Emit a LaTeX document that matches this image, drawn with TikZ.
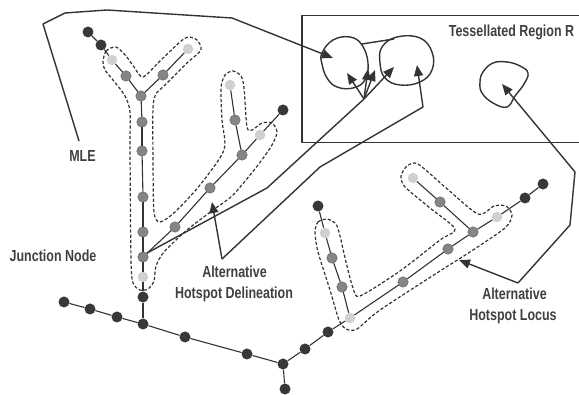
\documentclass[tikz,border=0pt]{standalone}
\usepackage{fontspec}
\newfontfamily\lblfont{Liberation Sans}[FakeStretch=0.78]
\usetikzlibrary{arrows.meta}
\definecolor{ink}{HTML}{333333}
\definecolor{txt}{HTML}{404040}
\definecolor{ndark}{HTML}{383838}
\definecolor{nmid}{HTML}{858585}
\definecolor{nlight}{HTML}{d0d0d0}
\tikzset{
  edge/.style={draw=ink, line width=1.1pt},
  hot/.style={draw=ink, line width=1.2pt, dash pattern=on 3.2pt off 2pt},
  lead/.style={draw=ink, line width=1.4pt, line join=round},
  ptr/.style={lead, -{Triangle[length=11pt,width=9pt]}},
  dk/.style={circle, fill=ndark, minimum size=11pt, inner sep=0pt},
  md/.style={circle, fill=nmid, draw=ink!80, line width=0.4pt, minimum size=10.5pt, inner sep=0pt},
  lt/.style={circle, fill=nlight, minimum size=10.5pt, inner sep=0pt},
  lbl/.style={font=\lblfont\bfseries\fontsize{16}{18}\selectfont, text=txt, inner sep=0pt, anchor=base},
  blob/.style={draw=ink, line width=1.4pt}
}
\begin{document}
\begin{tikzpicture}[x=1pt,y=-1pt]
\useasboundingbox (0,0) rectangle (579,395);

% tessellated region box (cut at the right edge)
\draw[lead] (579,15.5) -- (302,15.5) -- (302,142.5) -- (579,142.5);
\node[lbl] (treg) at (511.5,36.5) {Tessellated Region R};

% regions inside the box
\draw[blob] plot[smooth cycle, tension=0.7] coordinates {(322,53) (333,40) (350,37) (362,45) (368,63) (365,80) (353,88) (337,87) (327,78) (322,64)};
\draw[blob] plot[smooth cycle, tension=0.7] coordinates {(382,47) (397,37) (420,38) (432,52) (432,70) (420,82) (400,85) (385,78) (380,63)};
\coordinate (bl1) at (362,44);
\coordinate (bl2) at (394,39);
\draw[blob] (bl1) -- (bl2);
\draw[blob] plot[smooth cycle, tension=0.7] coordinates {(483,72) (493,63) (507,62) (520,66) (528,73) (524,84) (515,96) (507,107) (493,103) (482,93) (480,82)};

% hotspot outlines
\draw[hot] plot[smooth cycle, tension=0.45] coordinates {
 (103,62) (106,51) (116,47) (126,56) (134,67) (143,77) (160,61) (180,42) (188,37) (197,40) (201,50) (187,63) (165,85) (156,94) (153,108) (153,160) (154,212) (160,222)
 (175,212) (200,185) (224,150) (222,120) (221,88) (225,75) (233,71) (241,76) (244,88) (247,127) (252,130)
 (262,123) (272,123) (277,132) (272,145) (258,165) (233,195) (213,210) (187,230) (164,252) (156,266) (154,281) (148,289) (140,290) (133,283) (131,260) (130,150) (130,112) (125,96) (113,80) (105,70)};
\draw[hot] plot[smooth cycle, tension=0.45] coordinates {
 (315,232) (318,222) (327,219) (336,224) (340,236) (346,262) (353,288) (360,296) (400,271) (440,240) (455,229)
 (430,208) (405,187) (401,176) (407,166) (418,164) (445,187) (478,214) (494,206) (506,206) (512,215) (505,228)
 (470,252) (440,271) (380,310) (357,329) (346,329) (339,320) (330,290) (318,252)};

% network nodes
\node[dk] (t1) at (88,32) {};
\node[dk] (t2) at (101,45) {};
\node[lt] (t3) at (112,60) {};
\node[md] (t4) at (126,76) {};
\node[md] (y0) at (141,96) {};
\node[md] (r1) at (163,75) {};
\node[lt] (r2) at (188,49) {};
\node[md] (v1) at (142,122) {};
\node[md] (v2) at (142,151) {};
\node[md] (v3) at (143,197) {};
\node[md] (v4) at (143,232) {};
\node[md] (jn) at (143,257) {};
\node[lt] (v5) at (143,277) {};
\node[dk] (v6) at (143,297) {};
\node[dk] (b4) at (143,324) {};
\node[dk] (b1) at (64,302) {};
\node[dk] (b2) at (90,309) {};
\node[dk] (b3) at (117,317) {};
\node[dk] (b5) at (185,337) {};
\node[dk] (b6) at (247,354) {};
\node[dk] (b7) at (283,364) {};
\node[dk] (b8) at (285,389) {};
\node[md] (d1) at (175,227) {};
\node[md] (d2) at (210,188) {};
\node[md] (d3) at (242,155) {};
\node[lt] (d4) at (260,135) {};
\node[dk] (d5) at (283,110) {};
\node[md] (u1) at (235,120) {};
\node[lt] (u2) at (230,85) {};
\node[dk] (s1) at (305,349) {};
\node[dk] (s2) at (328,332) {};
\node[lt] (s3) at (350,318) {};
\node[md] (p1) at (342,287) {};
\node[md] (p2) at (332,258) {};
\node[lt] (p3) at (325,233) {};
\node[dk] (p4) at (318,206) {};
\node[md] (q1) at (403,282) {};
\node[md] (q2) at (448,249) {};
\node[md] (q3) at (473,232) {};
\node[lt] (q4) at (497,217) {};
\node[dk] (q5) at (525,198) {};
\node[dk] (q6) at (543,184) {};
\node[md] (w1) at (440,202) {};
\node[lt] (w2) at (413,178) {};

% network edges
\draw[edge] (t1) -- (t2); \draw[edge] (t2) -- (t3); \draw[edge] (t3) -- (t4); \draw[edge] (t4) -- (y0);
\draw[edge] (y0) -- (r1); \draw[edge] (r1) -- (r2);
\draw[edge] (y0) -- (v1); \draw[edge] (v1) -- (v2); \draw[edge] (v2) -- (v3); \draw[edge] (v3) -- (v4);
\draw[edge] (v4) -- (jn); \draw[edge] (jn) -- (v5); \draw[edge] (v5) -- (v6); \draw[edge] (v6) -- (b4);
\draw[edge] (b1) -- (b2); \draw[edge] (b2) -- (b3); \draw[edge] (b3) -- (b4); \draw[edge] (b4) -- (b5);
\draw[edge] (b5) -- (b6); \draw[edge] (b6) -- (b7); \draw[edge] (b7) -- (b8);
\draw[edge] (jn) -- (d1); \draw[edge] (d1) -- (d2); \draw[edge] (d2) -- (d3); \draw[edge] (d3) -- (d4); \draw[edge] (d4) -- (d5);
\draw[edge] (d3) -- (u1); \draw[edge] (u1) -- (u2);
\draw[edge] (b7) -- (s1); \draw[edge] (s1) -- (s2); \draw[edge] (s2) -- (s3);
\draw[edge] (s3) -- (p1); \draw[edge] (p1) -- (p2); \draw[edge] (p2) -- (p3); \draw[edge] (p3) -- (p4);
\draw[edge] (s3) -- (q1); \draw[edge] (q1) -- (q2); \draw[edge] (q2) -- (q3); \draw[edge] (q3) -- (q4);
\draw[edge] (q4) -- (q5); \draw[edge] (q5) -- (q6);
\draw[edge] (q3) -- (w1); \draw[edge] (w1) -- (w2);

% labels
\node[lbl] (mle) at (82.5,161.5) {MLE};
\node[lbl] (jlbl) at (53,261.5) {Junction Node};
\node[lbl] (del1) at (234.5,277.5) {Alternative};
\node[lbl] (del2) at (234,299) {Hotspot Delineation};
\node[lbl] (loc1) at (514.5,300) {Alternative};
\node[lbl] (loc2) at (513,320.5) {Hotspot Locus};

% MLE leader
\coordinate (m0) at (79,141);
\coordinate (m1) at (43,24);
\coordinate (m2) at (65,13);
\coordinate (m3) at (107,10);
\coordinate (m4) at (232,18);
\coordinate (mtip) at (333,58);
\draw[ptr] (m0) -- (m1) -- (m2) -- (m3) -- (m4) -- (mtip);

% fan from junction node
\coordinate (f1) at (267,188);
\coordinate (fo) at (364,99);
\draw[lead] (jn.north east) -- (f1) -- (fo);
\coordinate (ft1) at (347,73);
\coordinate (ft2) at (368,69);
\coordinate (ft3) at (375,70);
\coordinate (ft4) at (394,67);
\draw[ptr] (fo) -- (ft1);
\draw[ptr] (fo) -- (ft2);
\draw[ptr] (fo) -- (ft3);
\draw[ptr] (fo) -- (ft4);

% delineation leader
\coordinate (dv) at (222,259);
\coordinate (dtip) at (212,202);
\coordinate (dk1) at (320,167);
\coordinate (dk2) at (423,107);
\coordinate (dtip2) at (417,65);
\draw[ptr] (dv) -- (dtip);
\draw[ptr] (dv) -- (dk1) -- (dk2) -- (dtip2);

% locus leader
\coordinate (lv) at (518,283);
\coordinate (ltip) at (459,260);
\coordinate (lk1) at (570,225);
\coordinate (lk2) at (575,172);
\coordinate (ltip2) at (502,84);
\draw[ptr] (lv) -- (ltip);
\draw[ptr] (lv) -- (lk1) -- (lk2) -- (ltip2);
\end{tikzpicture}
\end{document}
